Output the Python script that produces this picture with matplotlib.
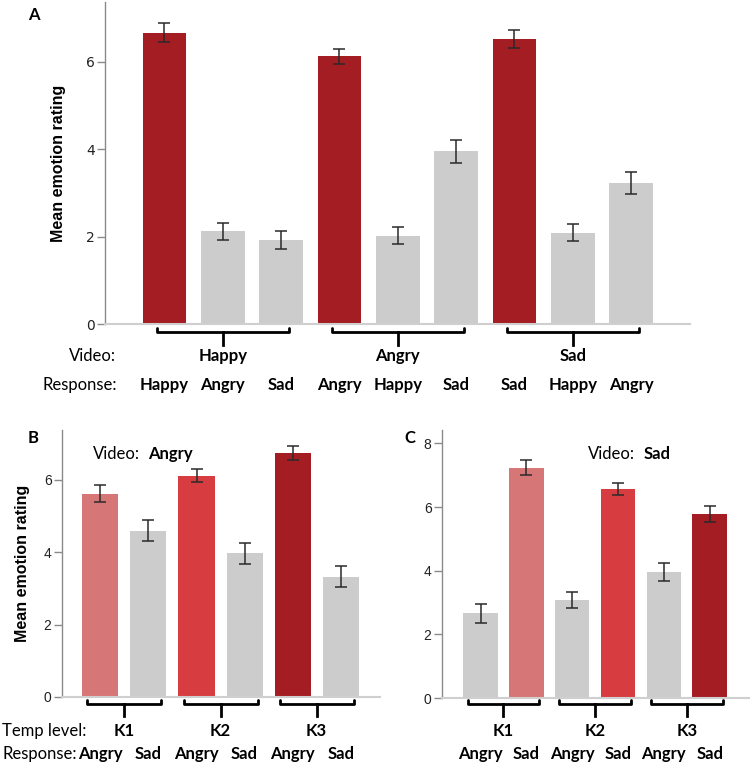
import matplotlib
matplotlib.use("Agg")
import matplotlib.pyplot as plt
from matplotlib.transforms import Affine2D, blended_transform_factory

W, H = 750, 766

# panel A: video x response
a_videos = ["Happy", "Angry", "Sad"]
a_responses = ["Happy", "Angry", "Sad", "Angry", "Happy", "Sad", "Sad", "Happy", "Angry"]
a_means = [6.67, 2.12, 1.93, 6.13, 2.02, 3.95, 6.52, 2.09, 3.22]
a_errs = [0.22, 0.20, 0.21, 0.17, 0.19, 0.27, 0.20, 0.19, 0.25]

# panel B: angry video, by temp level
b_levels = ["K1", "K2", "K3"]
b_responses = ["Angry", "Sad", "Angry", "Sad", "Angry", "Sad"]
b_means = [5.62, 4.60, 6.11, 3.97, 6.74, 3.33]
b_errs = [0.23, 0.29, 0.18, 0.29, 0.19, 0.30]

# panel C: sad video, by temp level
c_levels = ["K1", "K2", "K3"]
c_responses = ["Angry", "Sad", "Angry", "Sad", "Angry", "Sad"]
c_means = [2.66, 7.24, 3.07, 6.57, 3.96, 5.77]
c_errs = [0.29, 0.23, 0.25, 0.20, 0.27, 0.25]

DARK = "#a31d23"
MID = "#d73c40"
LIGHT = "#d77676"
GRAY = "#cccccc"

a_colors = [DARK, GRAY, GRAY] * 3
b_colors = [LIGHT, GRAY, MID, GRAY, DARK, GRAY]
c_colors = [GRAY, LIGHT, GRAY, MID, GRAY, DARK]

LABEL_FONT = "Lato"
TICK_FONT = "Liberation Sans"

fig = plt.figure(figsize=(W / 100, H / 100), dpi=100)
# y in pixels from top of the figure
px_y = Affine2D().scale(1, -1).translate(0, H)


def add_axes_px(left, top, right, bottom):
    return fig.add_axes([left / W, 1 - bottom / H, (right - left) / W, (bottom - top) / H])


def style_axes(ax, ticks, tick_family):
    for s in ["top", "right"]:
        ax.spines[s].set_visible(False)
    ax.spines["left"].set_color("#8a8a8a")
    ax.spines["left"].set_linewidth(1.0)
    ax.spines["bottom"].set_color("#cfcfcf")
    ax.spines["bottom"].set_linewidth(1.5)
    ax.set_xticks([])
    ax.set_yticks(ticks)
    ax.tick_params(axis="y", length=6, width=1, color="#8a8a8a", pad=1.5, labelsize=10)
    for lab in ax.get_yticklabels():
        lab.set_fontfamily(tick_family)
        lab.set_color("#222222")


def draw_bars(ax, means, errs, colors):
    x = list(range(len(means)))
    ax.bar(x, means, width=0.75, color=colors, edgecolor="none", zorder=2)
    ax.errorbar(x, means, yerr=errs, fmt="none", ecolor="#2a2a2a", elinewidth=1.1,
                capsize=4.5, capthick=1.1, zorder=3)
    return x


def bracket(ax, center, half, y_line, y_stem):
    tr = blended_transform_factory(ax.transData, px_y)
    xs = [center - half, center - half, center + half, center + half]
    ys = [y_line - 4, y_line, y_line, y_line - 4]
    ax.plot(xs, ys, color="black", lw=2.0, transform=tr, clip_on=False,
            solid_joinstyle="round", solid_capstyle="round")
    ax.plot([center, center], [y_line, y_stem], color="black", lw=2.0, transform=tr,
            clip_on=False)


def px_text(x, y, s, **kw):
    fig.text(x / W, 1 - y / H, s, **kw)


# ---------------- panel A ----------------
axA = add_axes_px(105, 2, 690, 324)
xa = draw_bars(axA, a_means, a_errs, a_colors)
axA.set_xlim(-1.02, 9.01)
axA.set_ylim(0, 7.37)
style_axes(axA, [0, 2, 4, 6], "Liberation Sans Narrow")
axA.set_ylabel("Mean emotion rating", fontsize=11.5, fontweight="bold",
               fontfamily=TICK_FONT, labelpad=14)
trA = blended_transform_factory(axA.transData, px_y)
for g, name in enumerate(a_videos):
    c = 3 * g + 1
    bracket(axA, c, 1.13, 332, 345)
    axA.text(c, 356, name, transform=trA, ha="center", va="center", fontsize=12,
             fontweight="bold", fontfamily=LABEL_FONT)
for xi, r in zip(xa, a_responses):
    axA.text(xi, 385, r, transform=trA, ha="center", va="center", fontsize=12,
             fontweight="bold", fontfamily=LABEL_FONT)
px_text(116, 356, "Video:", ha="right", va="center", fontsize=12, fontfamily=LABEL_FONT)
px_text(117, 385, "Response:", ha="right", va="center", fontsize=12, fontfamily=LABEL_FONT)
px_text(34, 15, "A", ha="center", va="center", fontsize=12, fontweight="bold",
        fontfamily=LABEL_FONT)

# ---------------- panel B ----------------
axB = add_axes_px(62, 430, 380, 697)
xb = draw_bars(axB, b_means, b_errs, b_colors)
axB.set_xlim(-0.80, 5.82)
axB.set_ylim(0, 7.38)
style_axes(axB, [0, 2, 4, 6], TICK_FONT)
axB.set_ylabel("Mean emotion rating", fontsize=11.5, fontweight="bold",
               fontfamily=TICK_FONT, labelpad=10)
trB = blended_transform_factory(axB.transData, px_y)
for g, name in enumerate(b_levels):
    c = 2 * g + 0.5
    bracket(axB, c, 0.77, 704, 716)
    axB.text(c, 731, name, transform=trB, ha="center", va="center", fontsize=12,
             fontweight="bold", fontfamily=LABEL_FONT)
for xi, r in zip(xb, b_responses):
    axB.text(xi, 754, r, transform=trB, ha="center", va="center", fontsize=12,
             fontweight="bold", fontfamily=LABEL_FONT)
px_text(2, 731, "Temp level:", ha="left", va="center", fontsize=12, fontfamily=LABEL_FONT)
px_text(2, 754, "Response:", ha="left", va="center", fontsize=12, fontfamily=LABEL_FONT)
px_text(33, 438, "B", ha="center", va="center", fontsize=12, fontweight="bold",
        fontfamily=LABEL_FONT)
px_text(93, 454, "Video:", ha="left", va="center", fontsize=12, fontfamily=LABEL_FONT)
px_text(148, 454, "Angry", ha="left", va="center", fontsize=12, fontweight="bold",
        fontfamily=LABEL_FONT)

# ---------------- panel C ----------------
axC = add_axes_px(442, 430, 750, 698)
xc = draw_bars(axC, c_means, c_errs, c_colors)
axC.set_xlim(-0.84, 5.88)
axC.set_ylim(0, 8.42)
style_axes(axC, [0, 2, 4, 6, 8], TICK_FONT)
trC = blended_transform_factory(axC.transData, px_y)
for g, name in enumerate(c_levels):
    c = 2 * g + 0.5
    bracket(axC, c, 0.78, 704, 716)
    axC.text(c, 731, name, transform=trC, ha="center", va="center", fontsize=12,
             fontweight="bold", fontfamily=LABEL_FONT)
for xi, r in zip(xc, c_responses):
    axC.text(xi, 754, r, transform=trC, ha="center", va="center", fontsize=12,
             fontweight="bold", fontfamily=LABEL_FONT)
px_text(410, 438, "C", ha="center", va="center", fontsize=12, fontweight="bold",
        fontfamily=LABEL_FONT)
px_text(588, 454, "Video:", ha="left", va="center", fontsize=12, fontfamily=LABEL_FONT)
px_text(644, 454, "Sad", ha="left", va="center", fontsize=12, fontweight="bold",
        fontfamily=LABEL_FONT)

fig.savefig("out.png", dpi=100)
